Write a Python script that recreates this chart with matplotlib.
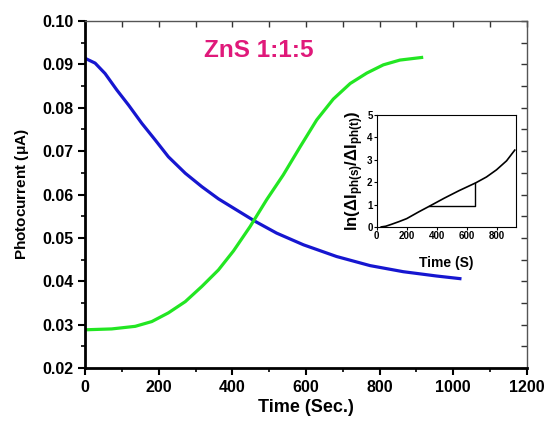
import numpy as np
import matplotlib.pyplot as plt
from matplotlib.ticker import MultipleLocator

plt.rcParams['font.family'] = ['Liberation Sans', 'DejaVu Sans']
plt.rcParams['font.weight'] = 'bold'
plt.rcParams['mathtext.fontset'] = 'custom'
plt.rcParams['mathtext.rm'] = 'Liberation Sans:bold'
plt.rcParams['mathtext.it'] = 'Liberation Sans:bold'
plt.rcParams['mathtext.bf'] = 'Liberation Sans:bold'

# 光电流衰减（蓝）
t_decay = [0, 27, 54, 86, 118, 154, 190, 226, 272, 317, 362, 410, 462, 520, 593, 683,
           774, 864, 955, 1018]
i_decay = [0.0914, 0.0903, 0.0879, 0.0841, 0.0806, 0.0764, 0.0726, 0.0687, 0.0649, 0.0618,
           0.0590, 0.0565, 0.0538, 0.0511, 0.0484, 0.0457, 0.0436, 0.0422, 0.0412, 0.0406]

# 光电流上升（绿）
t_rise = [0, 72, 136, 181, 226, 272, 317, 362, 403, 448, 493, 538, 584, 629, 674, 720,
          765, 810, 855, 914]
i_rise = [0.0288, 0.0290, 0.0296, 0.0307, 0.0327, 0.0353, 0.0388, 0.0426, 0.0470, 0.0526,
          0.0588, 0.0645, 0.0710, 0.0772, 0.0820, 0.0856, 0.0880, 0.0899, 0.0910, 0.0916]

# 插图: ln(ΔIph(s)/ΔIph(t))
t_ln = [30, 60, 100, 150, 200, 280, 356, 450, 550, 662, 733, 800, 867, 922]
ln_val = [0.0, 0.03, 0.12, 0.24, 0.37, 0.67, 0.94, 1.28, 1.62, 1.97, 2.23, 2.55, 2.95, 3.43]

# 斜率三角形
tri_x = [350, 655, 655]
tri_y = [0.95, 0.95, 1.95]

fig = plt.figure(figsize=(5.46, 4.21), dpi=100)
ax = fig.add_axes([0.156, 0.126, 0.809, 0.824])

ax.plot(t_decay, i_decay, color='#1616d0', linewidth=2.3, solid_joinstyle='round')
ax.plot(t_rise, i_rise, color='#22e622', linewidth=2.3, solid_joinstyle='round')

ax.set_xlim(0, 1200)
ax.set_ylim(0.02, 0.10)
ax.xaxis.set_major_locator(MultipleLocator(200))
ax.xaxis.set_minor_locator(MultipleLocator(100))
ax.yaxis.set_major_locator(MultipleLocator(0.01))
ax.yaxis.set_minor_locator(MultipleLocator(0.005))
ax.yaxis.set_major_formatter(plt.FormatStrFormatter('%.2f'))

for s in ['left', 'bottom']:
    ax.spines[s].set_linewidth(2.0)
for s in ['top', 'right']:
    ax.spines[s].set_linewidth(1.0)
    ax.spines[s].set_color('#555555')

ax.tick_params(which='major', direction='out', length=5, width=1.5, labelsize=11.5)
ax.tick_params(which='minor', direction='out', length=3, width=1.2)

# 上/右轴的刻度
axt = ax.secondary_xaxis('top')
axt.xaxis.set_major_locator(MultipleLocator(100))
axt.tick_params(direction='in', length=4, width=1, labeltop=False, color='#333333')
axt.spines['top'].set_visible(False)
axr = ax.secondary_yaxis('right')
axr.yaxis.set_major_locator(MultipleLocator(0.005))
axr.tick_params(direction='in', length=4, width=1, labelright=False, color='#333333')
axr.spines['right'].set_visible(False)

ax.set_xlabel('Time (Sec.)', fontsize=13, fontweight='bold', labelpad=3)
ax.set_ylabel(r'Photocurrent ($\mu$A)', fontsize=11, fontweight='bold', labelpad=8)

ax.text(0.27, 0.916, 'ZnS 1:1:5', transform=ax.transAxes, color='#e0197a',
        fontsize=17.5, fontweight='bold', va='center')

# 插图
ins = fig.add_axes([0.690, 0.461, 0.255, 0.266])
ins.plot(t_ln, ln_val, color='black', linewidth=1.2)
ins.plot(tri_x, tri_y, color='black', linewidth=1.0)
ins.set_xlim(0, 930)
ins.set_ylim(0, 5)
ins.xaxis.set_major_locator(MultipleLocator(200))
ins.yaxis.set_major_locator(MultipleLocator(1))
ins.tick_params(direction='out', length=2, width=0.8, labelsize=7, pad=1)
for s in ins.spines.values():
    s.set_linewidth(0.8)
ins.set_xlabel('Time (S)', fontsize=10, fontweight='bold', labelpad=11)
ins.set_ylabel(r'ln($\Delta$I$_{\mathregular{ph(s)}}$/$\Delta$I$_{\mathregular{ph(t)}}$)',
               fontsize=12, fontweight='bold', labelpad=1)

fig.savefig('out.png', dpi=100)
